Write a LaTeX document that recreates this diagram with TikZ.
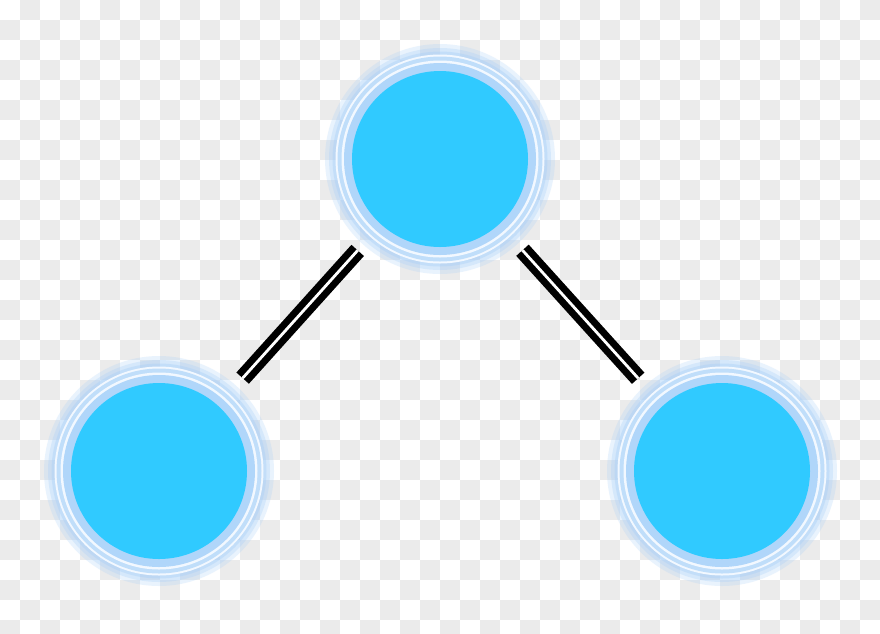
\documentclass[tikz,border=0pt]{standalone}
\definecolor{checker}{RGB}{235,235,235}
\definecolor{nodefill}{RGB}{48,202,255}
\definecolor{bandA}{RGB}{176,214,250}
\definecolor{ringW}{RGB}{242,248,255}
\definecolor{bandB}{RGB}{192,222,250}
\definecolor{glowC}{RGB}{170,208,248}
\tikzset{
  ball/.style={circle, fill=nodefill, minimum size=176pt, inner sep=0pt, outer sep=0pt},
  rail/.style={draw=black, line width=7pt, double=white, double distance=2.8pt, shorten <=35pt, shorten >=37pt},
}
\begin{document}
\begin{tikzpicture}[x=1pt,y=-1pt]
\useasboundingbox (0,0) rectangle (880,633);
\begin{scope}
\clip (0,0) rectangle (880,633);
\fill[white] (0,0) rectangle (880,633);
\foreach \j in {0,...,31}{
  \foreach \i in {0,2,...,42}{
    \fill[checker] ({(\i+mod(\j+1,2))*20},{\j*20}) rectangle +(20,20);
  }
}
\end{scope}
% glow rings
\foreach \cx/\cy in {440/159, 159/471, 722/471}{
  \fill[glowC, opacity=0.25] (\cx,\cy) circle (115);
  \fill[glowC, opacity=0.3] (\cx,\cy) circle (111);
  \fill[glowC, opacity=0.4] (\cx,\cy) circle (107.5);
  \fill[ringW] (\cx,\cy) circle (104.5);
  \fill[bandB] (\cx,\cy) circle (102.5);
  \fill[ringW] (\cx,\cy) circle (98.5);
  \fill[bandA] (\cx,\cy) circle (96);
}
\node[ball] (top) at (440,159) {};
\node[ball] (left) at (159,471) {};
\node[ball] (right) at (722,471) {};
\draw[rail] (top) -- (left);
\draw[rail] (top) -- (right);
\end{tikzpicture}
\end{document}
